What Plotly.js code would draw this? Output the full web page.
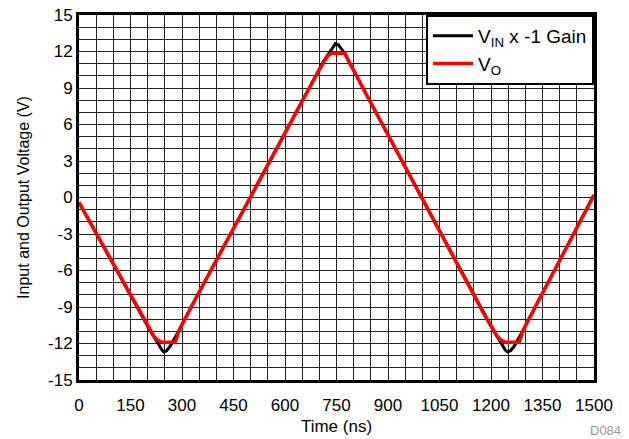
<!DOCTYPE html>
<html>
<head>
<meta charset="utf-8">
<script src="https://cdn.plot.ly/plotly-3.0.1.min.js"></script>
<style>html,body{margin:0;padding:0;background:#fff;}#chart{width:629px;height:439px;}</style>
</head>
<body>
<div id="chart"></div>
<script>
// Time (ns) and voltage (V) samples
const vinTime = [0, 180, 210, 222, 235, 242, 247, 255, 265, 280, 290, 300, 340,
  690, 710, 722, 735, 742, 747, 755, 765, 780, 790, 800, 840,
  1180, 1210, 1222, 1235, 1242, 1249, 1257, 1267, 1282, 1292, 1302, 1340, 1500];
const vinVolt = [-0.4, -9.6, -11.1, -11.6, -12.25, -12.55, -12.7, -12.6, -12.25, -11.55, -11.0, -10.45, -8.3,
  10.0, 11.1, 11.6, 12.2, 12.5, 12.65, 12.55, 12.2, 11.5, 11.0, 10.45, 8.3,
  -9.6, -11.1, -11.6, -12.25, -12.55, -12.7, -12.6, -12.25, -11.55, -11.0, -10.45, -8.4, 0.2];

const voTime = [0, 178, 195, 207, 218, 228, 240, 250, 280, 285, 290, 300, 340,
  690, 700, 710, 720, 728, 735, 775, 780, 789, 800, 840,
  1180, 1195, 1207, 1218, 1228, 1240, 1250, 1282, 1287, 1292, 1302, 1340, 1500];
const voVolt = [-0.4, -9.5, -10.35, -10.95, -11.4, -11.7, -11.88, -11.9, -11.9, -11.5, -11.0, -10.45, -8.3,
  10.0, 10.5, 11.0, 11.45, 11.7, 11.85, 11.85, 11.5, 11.0, 10.45, 8.3,
  -9.6, -10.35, -10.95, -11.4, -11.7, -11.88, -11.9, -11.9, -11.5, -11.0, -10.45, -8.4, 0.2];

const seriesNames = ['V<sub>IN</sub> x -1 Gain', 'V<sub>O</sub>'];
const xTicks = [0, 150, 300, 450, 600, 750, 900, 1050, 1200, 1350, 1500];
const yTicks = [-15, -12, -9, -6, -3, 0, 3, 6, 9, 12, 15];

const font = 'Liberation Sans, Arial, sans-serif';
const data = [
  {x: vinTime, y: vinVolt, name: seriesNames[0], type: 'scatter', mode: 'lines',
   line: {color: '#000000', width: 3}},
  {x: voTime, y: voVolt, name: seriesNames[1], type: 'scatter', mode: 'lines',
   line: {color: '#ff0000', width: 3.5}}
];
const gridCol = '#222222';
const layout = {
  width: 629, height: 439,
  margin: {l: 79, r: 35, t: 15, b: 59},
  paper_bgcolor: '#ffffff', plot_bgcolor: '#ffffff',
  font: {family: font, size: 17, color: '#000'},
  showlegend: true,
  legend: {x: 1, xanchor: 'right', y: 1, yanchor: 'top', bgcolor: '#fff',
    bordercolor: '#000', borderwidth: 2, font: {family: font, size: 19, color: '#000'},
    itemwidth: 40, tracegroupgap: 0},
  xaxis: {range: [0, 1500], tickvals: xTicks, ticktext: xTicks.map(String),
    showgrid: true, gridcolor: gridCol, gridwidth: 1,
    minor: {dtick: 50, tick0: 0, showgrid: true, gridcolor: gridCol, gridwidth: 1, ticklen: 0},
    zeroline: false, showline: true, linecolor: '#000', linewidth: 3, mirror: true,
    ticks: '', tickfont: {size: 17}, ticklabelstandoff: 8,
    title: {text: 'Time (ns)', font: {size: 17}, standoff: 6}},
  yaxis: {range: [-15, 15], tickvals: yTicks, ticktext: yTicks.map(String),
    showgrid: true, gridcolor: gridCol, gridwidth: 1,
    minor: {dtick: 1, tick0: 0, showgrid: true, gridcolor: gridCol, gridwidth: 1, ticklen: 0},
    zeroline: false, showline: true, linecolor: '#000', linewidth: 3, mirror: true,
    ticks: '', tickfont: {size: 17},
    title: {text: 'Input and Output Voltage (V)', font: {size: 16}, standoff: 15}},
  annotations: [{text: 'D084', xref: 'paper', yref: 'paper', x: 1.054, y: -0.137,
    xanchor: 'right', yanchor: 'middle', showarrow: false, borderpad: 0,
    font: {family: font, size: 13, color: '#999999'}}]
};
Plotly.newPlot('chart', data, layout, {displayModeBar: false, staticPlot: true});
</script>
</body>
</html>
